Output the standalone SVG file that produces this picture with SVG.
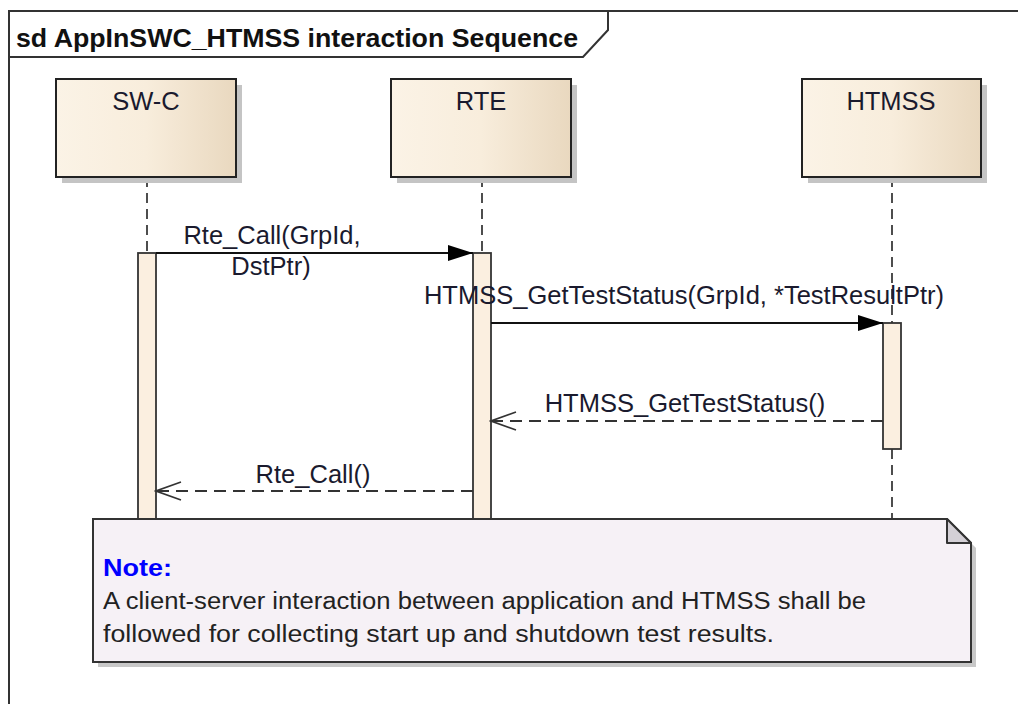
<svg xmlns="http://www.w3.org/2000/svg" width="1018" height="704" viewBox="0 0 1018 704">
<defs>
<linearGradient id="lg" x1="0" y1="0" x2="1" y2="0">
<stop offset="0" stop-color="#fbf3e6"/>
<stop offset="0.5" stop-color="#f8eddc"/>
<stop offset="1" stop-color="#e9d8bf"/>
</linearGradient>
<marker id="solid" markerWidth="26" markerHeight="18" refX="25" refY="9" orient="auto" markerUnits="userSpaceOnUse">
<path d="M0,1 L25,9 L0,17 Z" fill="#000"/>
</marker>
<marker id="open" markerWidth="28" markerHeight="20" refX="26" refY="10" orient="auto" markerUnits="userSpaceOnUse">
<path d="M1,1 L26,10 L1,19" fill="none" stroke="#333" stroke-width="1.6"/>
</marker>
</defs>
<style>
.t{font-family:"Liberation Sans",Arial,sans-serif;font-size:25.5px;fill:#1a1a2e}
.box{fill:url(#lg);stroke:#222;stroke-width:2}
.sh{fill:#c4c4c4}
.ll{stroke:#222;stroke-width:1.6;stroke-dasharray:10,6;fill:none}
.act{fill:#fbefe0;stroke:#333;stroke-width:1.8}
.msg{stroke:#111;stroke-width:1.8;fill:none}
.ret{stroke:#333;stroke-width:1.8;fill:none;stroke-dasharray:12,7}
.nt{font-family:"Liberation Sans",Arial,sans-serif;font-size:23px;fill:#222}
</style>
<rect width="1018" height="704" fill="#fff"/>
<g id="frame">
<path d="M9,712 L9,11 L1030,11" fill="none" stroke="#333" stroke-width="2"/>
<path d="M9,57 L583,57 L608,30 L608,11" fill="none" stroke="#333" stroke-width="2"/>
<text x="16" y="47" font-family="Liberation Sans,Arial,sans-serif" font-size="26.5px" font-weight="bold" fill="#111" textLength="562" lengthAdjust="spacingAndGlyphs">sd AppInSWC_HTMSS interaction Sequence</text>
</g>
<g id="lifelines">
<line class="ll" x1="147" y1="177" x2="147" y2="253"/>
<line class="ll" x1="482" y1="177" x2="482" y2="253"/>
<line class="ll" x1="892" y1="177" x2="892" y2="323"/>
<line class="ll" x1="892" y1="449" x2="892" y2="519"/>
</g>
<g id="swc">
<rect class="sh" x="62" y="85" width="180" height="98"/>
<rect class="box" x="56" y="79" width="180" height="98"/>
<text class="t" x="146" y="110" text-anchor="middle">SW-C</text>
</g>
<g id="rte">
<rect class="sh" x="397" y="85" width="180" height="98"/>
<rect class="box" x="391" y="79" width="180" height="98"/>
<text class="t" x="481" y="110" text-anchor="middle">RTE</text>
</g>
<g id="htmss">
<rect class="sh" x="808" y="85" width="179" height="98"/>
<rect class="box" x="802" y="79" width="179" height="98"/>
<text class="t" x="891" y="110" text-anchor="middle">HTMSS</text>
</g>
<g id="activations">
<rect class="act" x="138" y="253" width="18" height="280"/>
<rect class="act" x="473" y="253" width="18" height="280"/>
<rect class="act" x="883" y="323" width="18" height="126"/>
</g>
<g id="connectors">
<line class="msg" x1="156" y1="253" x2="473" y2="253" marker-end="url(#solid)"/>
<rect x="228" y="254" width="86" height="24" fill="#fff"/>
<text class="t" x="272" y="244" text-anchor="middle">Rte_Call(GrpId,</text>
<text class="t" x="271" y="275" text-anchor="middle">DstPtr)</text>
<line class="msg" x1="491" y1="323" x2="883" y2="323" marker-end="url(#solid)"/>
<text class="t" x="684" y="304" text-anchor="middle">HTMSS_GetTestStatus(GrpId, *TestResultPtr)</text>
<line class="ret" x1="883" y1="421" x2="491" y2="421" marker-end="url(#open)"/>
<text class="t" x="685" y="412" text-anchor="middle">HTMSS_GetTestStatus()</text>
<line class="ret" x1="473" y1="491" x2="156" y2="491" marker-end="url(#open)"/>
<text class="t" x="313" y="483" text-anchor="middle">Rte_Call()</text>
</g>
<g id="note">
<path d="M98,524 L952,524 L976,548 L976,667 L98,667 Z" fill="#c8c8c8"/>
<path d="M93,519 L947,519 L971,543 L971,662 L93,662 Z" fill="#f6f1f6" stroke="#333" stroke-width="2"/>
<path d="M947,519 L947,543 L971,543 Z" fill="#d4d0d6" stroke="#333" stroke-width="2" stroke-linejoin="round"/>
<text x="103" y="576" font-family="Liberation Sans,Arial,sans-serif" font-size="23px" font-weight="bold" fill="#0000ff" textLength="69" lengthAdjust="spacingAndGlyphs">Note:</text>
<text class="nt" x="103" y="609" textLength="763" lengthAdjust="spacingAndGlyphs">A client-server interaction between application and HTMSS shall be</text>
<text class="nt" x="103" y="642" textLength="671" lengthAdjust="spacingAndGlyphs">followed for collecting start up and shutdown test results.</text>
</g>
</svg>
